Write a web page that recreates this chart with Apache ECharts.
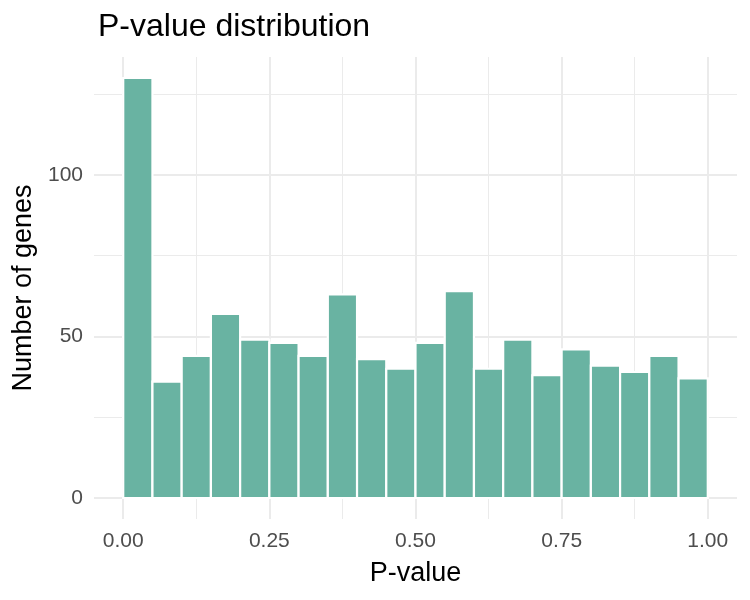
<!DOCTYPE html>
<html>
<head>
<meta charset="utf-8">
<script src="https://cdn.jsdelivr.net/npm/echarts@6/dist/echarts.min.js"></script>
<style>
  html, body { margin: 0; padding: 0; background: #fff; }
  #chart { width: 750px; height: 600px; }
</style>
</head>
<body>
<div id="chart"></div>
<script>
"use strict";

// histogram: 20 bins of width 0.05 over [0, 1]
const binWidth = 0.05;
const counts = [130, 36, 44, 57, 49, 48, 44, 63, 43, 40, 48, 64, 40, 49, 38, 46, 41, 39, 44, 37];
const xTicks = [0, 0.25, 0.5, 0.75, 1];
const yTicks = [0, 50, 100];

const W = 750, H = 600;
const FONT = "'Liberation Sans', Arial, Helvetica, sans-serif";
const GRID_COLOR = "#ebebeb";

// panel bounds in px; ggplot pads the data range by 5% on each side
const panel = { left: 94, right: 737, top: 57, bottom: 519 };
const xRange = [-binWidth, 1 + binWidth];
const yMax = Math.max(...counts);
const yRange = [-yMax * 0.05, yMax * 1.05];

const px = (v) => panel.left + (v - xRange[0]) / (xRange[1] - xRange[0]) * (panel.right - panel.left);
const py = (v) => panel.bottom - (v - yRange[0]) / (yRange[1] - yRange[0]) * (panel.bottom - panel.top);
const fixed = { containLabel: false, outerBoundsMode: "none" };
const gridX = (a, b) => ({ ...fixed, left: px(a), right: W - px(b), top: panel.top, bottom: H - panel.bottom });
const gridY = (a, b) => ({ ...fixed, left: panel.left, right: W - panel.right, top: py(b), bottom: H - py(a) });

const binData = counts.map((c, i) => [+(i * binWidth).toFixed(2), +((i + 1) * binWidth).toFixed(2), c]);

const xStep = xTicks[1] - xTicks[0];
const yStep = yTicks[1] - yTicks[0];

const hidden = { show: false };
const bare = {
  axisLine: hidden, axisTick: hidden, axisLabel: hidden, splitLine: hidden,
};

const chart = echarts.init(document.getElementById("chart"), null, { renderer: "canvas" });

chart.setOption({
  animation: false,
  backgroundColor: "#fff",
  textStyle: { fontFamily: FONT },
  title: {
    text: "P-value distribution",
    left: 93, top: 6,
    textStyle: { fontFamily: FONT, fontSize: 32, fontWeight: "normal", color: "#000" },
  },
  grid: [
    gridX(xRange[0], xRange[1]),                                         // 0 bars
    gridX(xTicks[0], xTicks[xTicks.length - 1]),                         // 1 x major
    gridX(xTicks[0] + xStep / 2, xTicks[xTicks.length - 1] - xStep / 2), // 2 x minor
    gridY(yTicks[0], yTicks[yTicks.length - 1]),                         // 3 y major
    gridY(yTicks[0] + yStep / 2, yTicks[yTicks.length - 1] + yStep / 2), // 4 y minor
  ],
  xAxis: [
    {
      gridIndex: 0, type: "value", min: xRange[0], max: xRange[1], ...bare,
      name: "P-value", nameLocation: "middle", nameGap: 41,
      nameTextStyle: { fontFamily: FONT, fontSize: 27, color: "#000", verticalAlign: "top" },
    },
    {
      gridIndex: 1, type: "value", min: xTicks[0], max: xTicks[xTicks.length - 1], interval: xStep,
      axisLine: hidden, axisTick: hidden,
      axisLabel: { margin: 12, fontSize: 21, color: "#4d4d4d", fontFamily: FONT, formatter: (v) => v.toFixed(2) },
      splitLine: { show: true, lineStyle: { color: GRID_COLOR, width: 2 } },
    },
    {
      gridIndex: 2, type: "value", min: xTicks[0] + xStep / 2, max: xTicks[xTicks.length - 1] - xStep / 2,
      interval: xStep, ...bare,
      splitLine: { show: true, lineStyle: { color: GRID_COLOR, width: 1 } },
    },
    { gridIndex: 3, type: "value", ...bare },
    { gridIndex: 4, type: "value", ...bare },
  ],
  yAxis: [
    {
      gridIndex: 0, type: "value", min: yRange[0], max: yRange[1], ...bare,
      name: "Number of genes", nameLocation: "middle", nameGap: 57,
      nameTextStyle: { fontFamily: FONT, fontSize: 27, color: "#000" },
    },
    { gridIndex: 1, type: "value", ...bare },
    { gridIndex: 2, type: "value", ...bare },
    {
      gridIndex: 3, type: "value", min: yTicks[0], max: yTicks[yTicks.length - 1], interval: yStep,
      axisLine: hidden, axisTick: hidden,
      axisLabel: { margin: 11, fontSize: 21, color: "#4d4d4d", fontFamily: FONT },
      splitLine: { show: true, lineStyle: { color: GRID_COLOR, width: 2 } },
    },
    {
      gridIndex: 4, type: "value", min: yTicks[0] + yStep / 2, max: yTicks[yTicks.length - 1] + yStep / 2,
      interval: yStep, ...bare,
      splitLine: { show: true, lineStyle: { color: GRID_COLOR, width: 1 } },
    },
  ],
  series: [{
    type: "custom",
    xAxisIndex: 0, yAxisIndex: 0,
    z: 5,
    data: binData,
    encode: { x: [0, 1], y: 2 },
    renderItem(params, api) {
      const p0 = api.coord([api.value(0), 0]);
      const p1 = api.coord([api.value(1), api.value(2)]);
      return {
        type: "rect",
        shape: { x: p0[0], y: p1[1], width: p1[0] - p0[0], height: p0[1] - p1[1] },
        style: { fill: "#69b3a2", stroke: "#fff", lineWidth: 2.2 },
      };
    },
  }],
});
</script>
</body>
</html>
